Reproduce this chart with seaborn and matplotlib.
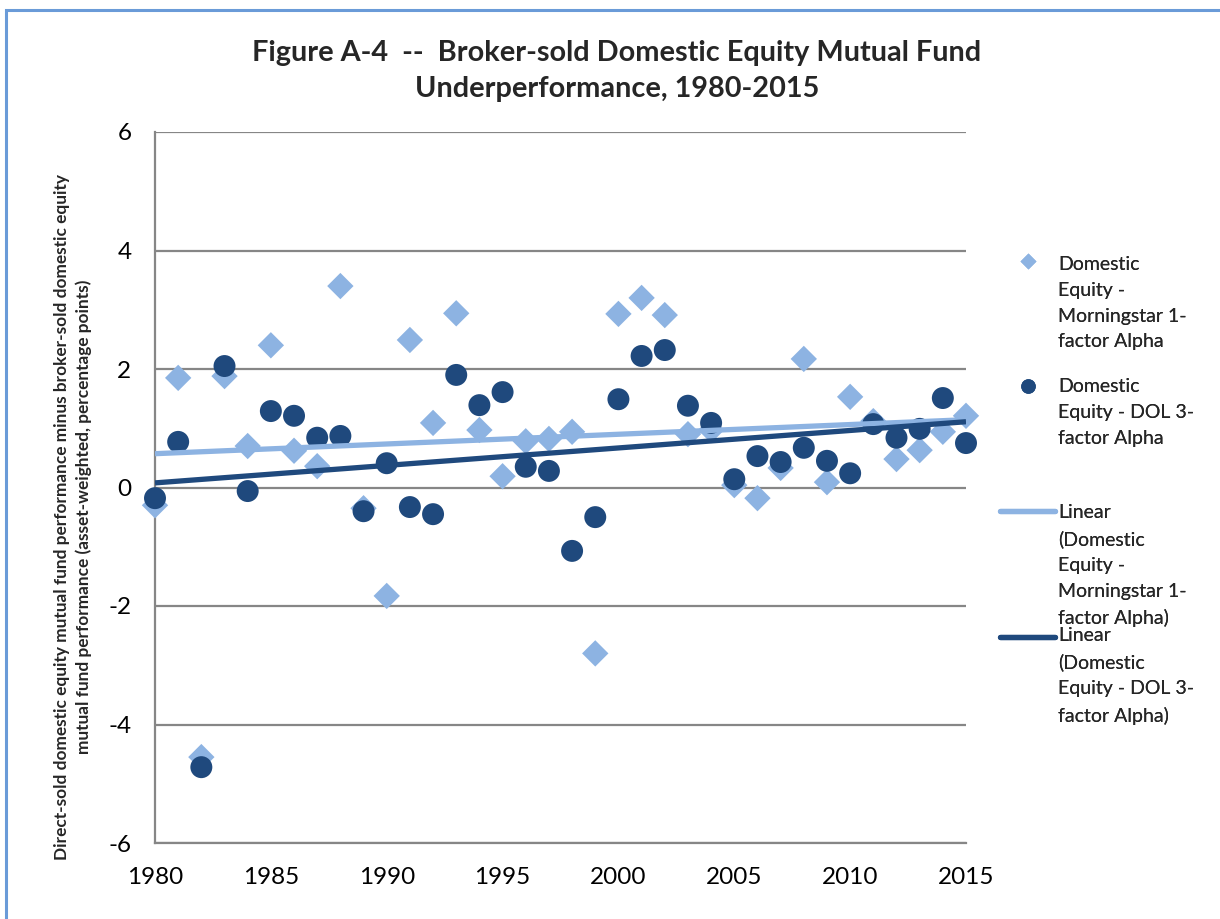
import numpy as np
import pandas as pd
import matplotlib
matplotlib.use("Agg")
import matplotlib.pyplot as plt
import seaborn as sns
from matplotlib.lines import Line2D
from matplotlib.legend_handler import HandlerLine2D
from matplotlib.patches import Rectangle

years = list(range(1980, 2016))
morningstar_alpha = [-0.30, 1.85, -4.55, 1.88, 0.70, 2.40, 0.62, 0.36, 3.40, -0.35,
                     -1.83, 2.49, 1.09, 2.94, 0.97, 0.19, 0.78, 0.82, 0.94, -2.80,
                     2.93, 3.20, 2.91, 0.90, 0.97, 0.04, -0.18, 0.33, 2.17, 0.09,
                     1.53, 1.12, 0.48, 0.63, 0.94, 1.21]
dol_alpha = [-0.18, 0.77, -4.72, 2.05, -0.06, 1.29, 1.21, 0.84, 0.87, -0.40,
             0.41, -0.33, -0.45, 1.90, 1.39, 1.61, 0.35, 0.28, -1.07, -0.50,
             1.49, 2.22, 2.32, 1.38, 1.09, 0.14, 0.53, 0.43, 0.67, 0.45,
             0.24, 1.07, 0.84, 0.99, 1.51, 0.75]

labels = ["Domestic\nEquity -\nMorningstar 1-\nfactor Alpha",
          "Domestic\nEquity - DOL 3-\nfactor Alpha",
          "Linear\n(Domestic\nEquity -\nMorningstar 1-\nfactor Alpha)",
          "Linear\n(Domestic\nEquity - DOL 3-\nfactor Alpha)"]

title = "Figure A-4  --  Broker-sold Domestic Equity Mutual Fund\nUnderperformance, 1980-2015"
ylabel = ("Direct-sold domestic equity mutual fund performance minus broker-sold domestic equity\n"
          "mutual fund performance (asset-weighted, percentage points)")

light = "#8DB3E2"
dark = "#1F497D"
grid_c = "#868686"

df = pd.DataFrame({"year": years, "ms": morningstar_alpha, "dol": dol_alpha})

sns.set_style("white")
plt.rcParams["font.family"] = ["Lato", "DejaVu Sans"]
plt.rcParams["axes.unicode_minus"] = False

fig = plt.figure(figsize=(12.2, 9.19), dpi=100)
ax = fig.add_axes([155/1220, 1-843/919, (966-155)/1220, (843-132)/919])

sns.scatterplot(data=df, x="year", y="ms", ax=ax, marker="D", s=180, color=light,
                edgecolor="none", zorder=3, legend=False, clip_on=False)
sns.scatterplot(data=df, x="year", y="dol", ax=ax, marker="o", s=250, color=dark,
                edgecolor="none", zorder=4, legend=False, clip_on=False)
sns.regplot(data=df, x="year", y="ms", ax=ax, scatter=False, ci=None, truncate=True,
            line_kws=dict(color=light, lw=3.8, zorder=5, solid_capstyle="butt"))
sns.regplot(data=df, x="year", y="dol", ax=ax, scatter=False, ci=None, truncate=True,
            line_kws=dict(color=dark, lw=3.8, zorder=6, solid_capstyle="butt"))

ax.set_xlim(1980, 2015)
ax.set_ylim(-6, 6)
ax.set_xticks(range(1980, 2016, 5))
ax.set_yticks(range(-6, 7, 2))
ax.yaxis.grid(True, color=grid_c, lw=1.6)
ax.set_axisbelow(True)
for side in ["top", "right"]:
    ax.spines[side].set_visible(False)
for side in ["left", "bottom"]:
    ax.spines[side].set_color(grid_c)
    ax.spines[side].set_linewidth(1.6)
ax.tick_params(axis="both", length=0, labelsize=17.5, colors="black")
ax.tick_params(axis="x", pad=17)
ax.tick_params(axis="y", pad=17)
ax.set_xlabel("")
ax.set_ylabel("")

fig.text(73/1220, 1-517/919, ylabel, rotation=90, ha="center", va="center",
         fontsize=12.4, fontweight="bold", linespacing=1.4)

fig.text(617/1220, 1-71/919, title, ha="center", va="center", fontsize=20.8,
         fontweight="bold", linespacing=1.5)


class TopHandler(HandlerLine2D):
    def __init__(self, nlines, ls, extra=0.0, **kw):
        super().__init__(**kw)
        self.nlines = nlines
        self.ls = ls
        self.extra = extra

    def create_artists(self, legend, orig_handle, xdescent, ydescent, width,
                       height, fontsize, trans):
        arts = super().create_artists(legend, orig_handle, xdescent, ydescent,
                                      width, height, fontsize, trans)
        shift = ((self.nlines - 1) * fontsize * self.ls / 2
                 - 0.25 * fontsize - self.extra * fontsize)
        for a in arts:
            a.set_ydata(np.asarray(a.get_ydata()) + shift)
        return arts


LS = 1.63
h1 = Line2D([], [], marker="D", ls="none", color=light, markersize=8, mec="none")
h2 = Line2D([], [], marker="o", ls="none", color=dark, markersize=10.5, mec="none")
h3 = Line2D([], [], color=light, lw=3.8)
h4 = Line2D([], [], color=dark, lw=3.8)
handles = [h1, h2, h3, h4]
extras = [0.0, 0.0, 0.21, 0.2]
tops = [256, 378, 504, 627]
for h, lab, top, ex in zip(handles, labels, tops, extras):
    leg = fig.legend([h], [lab], loc="upper left", bbox_to_anchor=(1000/1220, 1-top/919),
                     frameon=False, fontsize=14, handlelength=2.85, handletextpad=0.15,
                     borderpad=0, borderaxespad=0,
                     handler_map={h: TopHandler(lab.count("\n") + 1, LS, ex)})
    for t in leg.get_texts():
        t.set_linespacing(LS)
    fig.add_artist(leg)

fig.patches.append(Rectangle((6/1220, -0.05), 1.2, 1 - 10/919 + 0.05,
                             transform=fig.transFigure, fill=False,
                             edgecolor="#6A9BD8", lw=2.2))

fig.savefig("out.png", dpi=100)
